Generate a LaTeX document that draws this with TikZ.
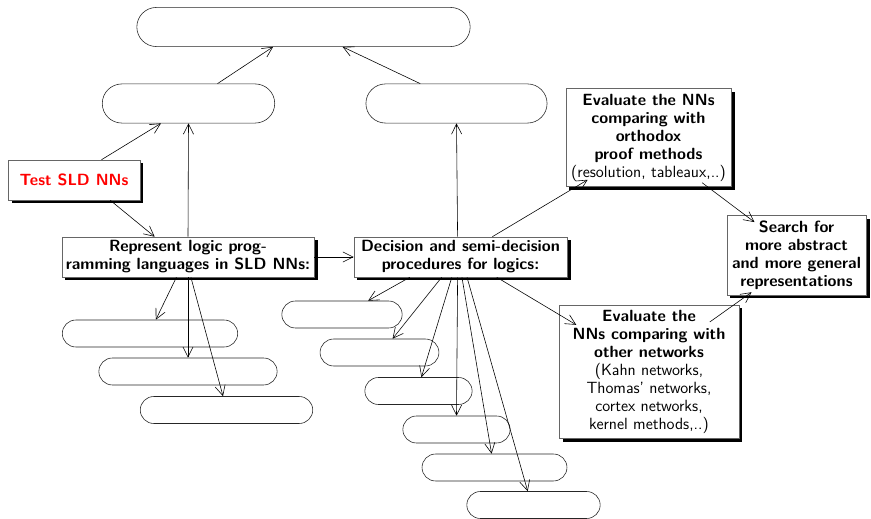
\documentclass[tikz,border=0pt]{standalone}
\usetikzlibrary{positioning, shapes.misc, shadows, arrows.meta}

\begin{document}
\begin{tikzpicture}[x=0.69pt, y=-0.69pt,
pill/.style={rounded rectangle, draw=black!85, thin, minimum height=27pt, inner sep=0pt},
smallpill/.style={pill, minimum height=18.6pt},
shadowbox/.style={rectangle, draw=black!60, thin, fill=white, align=center,
  font=\fontsize{11.2}{12.4}\selectfont\sffamily\bfseries, inner sep=1.5pt,
  drop shadow={shadow xshift=2.4pt, shadow yshift=-2.4pt, fill=black, opacity=1}},
>={Straight Barb[length=7pt,width=7pt]}
]
\useasboundingbox (0,0) rectangle (871,519);
%Nodes
\node[pill, minimum width=230pt]   (Top)  at (303.5,27)   {};
\node[pill, minimum width=119pt]   (ML)   at (188.5,103.5) {};
\node[pill, minimum width=125pt]   (MR)   at (456.5,103.5) {};

\node[shadowbox, text=red, minimum width=91pt, minimum height=27.6pt] (Test) at (74,180) {Test SLD NNs};
\node[shadowbox, minimum width=174pt, minimum height=27.6pt] (Rep) at (188,257) {Represent logic prog-\\ramming languages in SLD NNs:};
\node[shadowbox, minimum width=147pt, minimum height=27.6pt] (Dec) at (460.5,257) {Decision and semi-decision\\procedures for logics:};
\node[shadowbox, minimum width=114pt, minimum height=68pt] (EvalO) at (648.5,137.5)
  {Evaluate the NNs\\comparing with\\orthodox\\proof methods\\\mdseries(resolution, tableaux,..)};
\node[shadowbox, minimum width=96pt, minimum height=55pt] (Search) at (796.5,255)
  {Search for\\more abstract\\and more general\\representations};
\node[shadowbox, minimum width=124pt, minimum height=92pt] (EvalN) at (649,371.5)
  {Evaluate the\\NNs comparing with\\other networks\\\mdseries(Kahn networks,\\\mdseries Thomas' networks,\\\mdseries cortex networks,\\\mdseries kernel methods,..)};

%\node[smallpill] (L0) [below=of Rep] {};
\node[smallpill, minimum width=121pt] (L1) at (150,333.5) {};
\node[smallpill, minimum width=123pt] (L2) at (188,371.5) {};
\node[smallpill, minimum width=119pt] (L3) at (226.5,410) {};

\node[smallpill, minimum width=83pt]  (R1) at (342,314.5) {};
\node[smallpill, minimum width=82pt]  (R2) at (379.5,352.5) {};
\node[smallpill, minimum width=74pt]  (R3) at (418.5,391) {};
\node[smallpill, minimum width=74pt]  (R4) at (456.5,429.5) {};
\node[smallpill, minimum width=100pt] (R5) at (494.5,467.5) {};
\node[smallpill, minimum width=92pt]  (R6) at (533.5,505) {};

%Lines
\draw[->] ([xshift=20pt]ML.north) -- ([xshift=-21pt]Top.south);
\draw[->] ([xshift=-25pt]MR.north) -- ([xshift=27pt]Top.south);
\draw[->] ([xshift=19pt]Test.north) -- ([xshift=-19pt]ML.south);
\draw[->] ([xshift=25pt]Test.south) -- ([xshift=-23pt]Rep.north);
\draw[->] (Rep.north) -- (ML.south);
\draw[->] (Rep.east) -- (Dec.west);
\draw[->] ([xshift=-2pt]Dec.north) -- (MR.south);
\draw[->] ([xshift=22pt]Dec.north) -- ([xshift=-42pt,yshift=5pt]EvalO.south);
\draw[->] ([xshift=37pt,yshift=3pt]EvalO.south) -- ([xshift=-29pt,yshift=-5pt]Search.north);
\draw[->] ([xshift=42pt,yshift=-12pt]EvalN.north) -- ([xshift=-31pt,yshift=2pt]Search.south);
\draw[->] ([xshift=25pt]Dec.south) -- ([xshift=12pt,yshift=-14pt]EvalN.north west);

\draw[->] ([xshift=-35pt]Dec.south) -- ([xshift=18pt]R1.north);
\draw[->] ([xshift=-13pt]Dec.south) -- ([xshift=9pt]R2.north);
\draw[->] ([xshift=-6pt]Dec.south) -- ([xshift=2pt]R3.north);
\draw[->] ([xshift=-2pt]Dec.south) -- (R4.north);
\draw[->] ([xshift=1pt]Dec.south) -- ([xshift=-2pt]R5.north);
\draw[->] ([xshift=4.5pt]Dec.south) -- ([xshift=-4pt]R6.north);

\draw[->] ([xshift=-8pt]Rep.south) -- ([xshift=4pt]L1.north);
\draw[->] (Rep.south) -- (L2.north);
\draw[->] ([xshift=2pt]Rep.south) -- ([xshift=-2.4pt]L3.north);
\end{tikzpicture}
\end{document}
